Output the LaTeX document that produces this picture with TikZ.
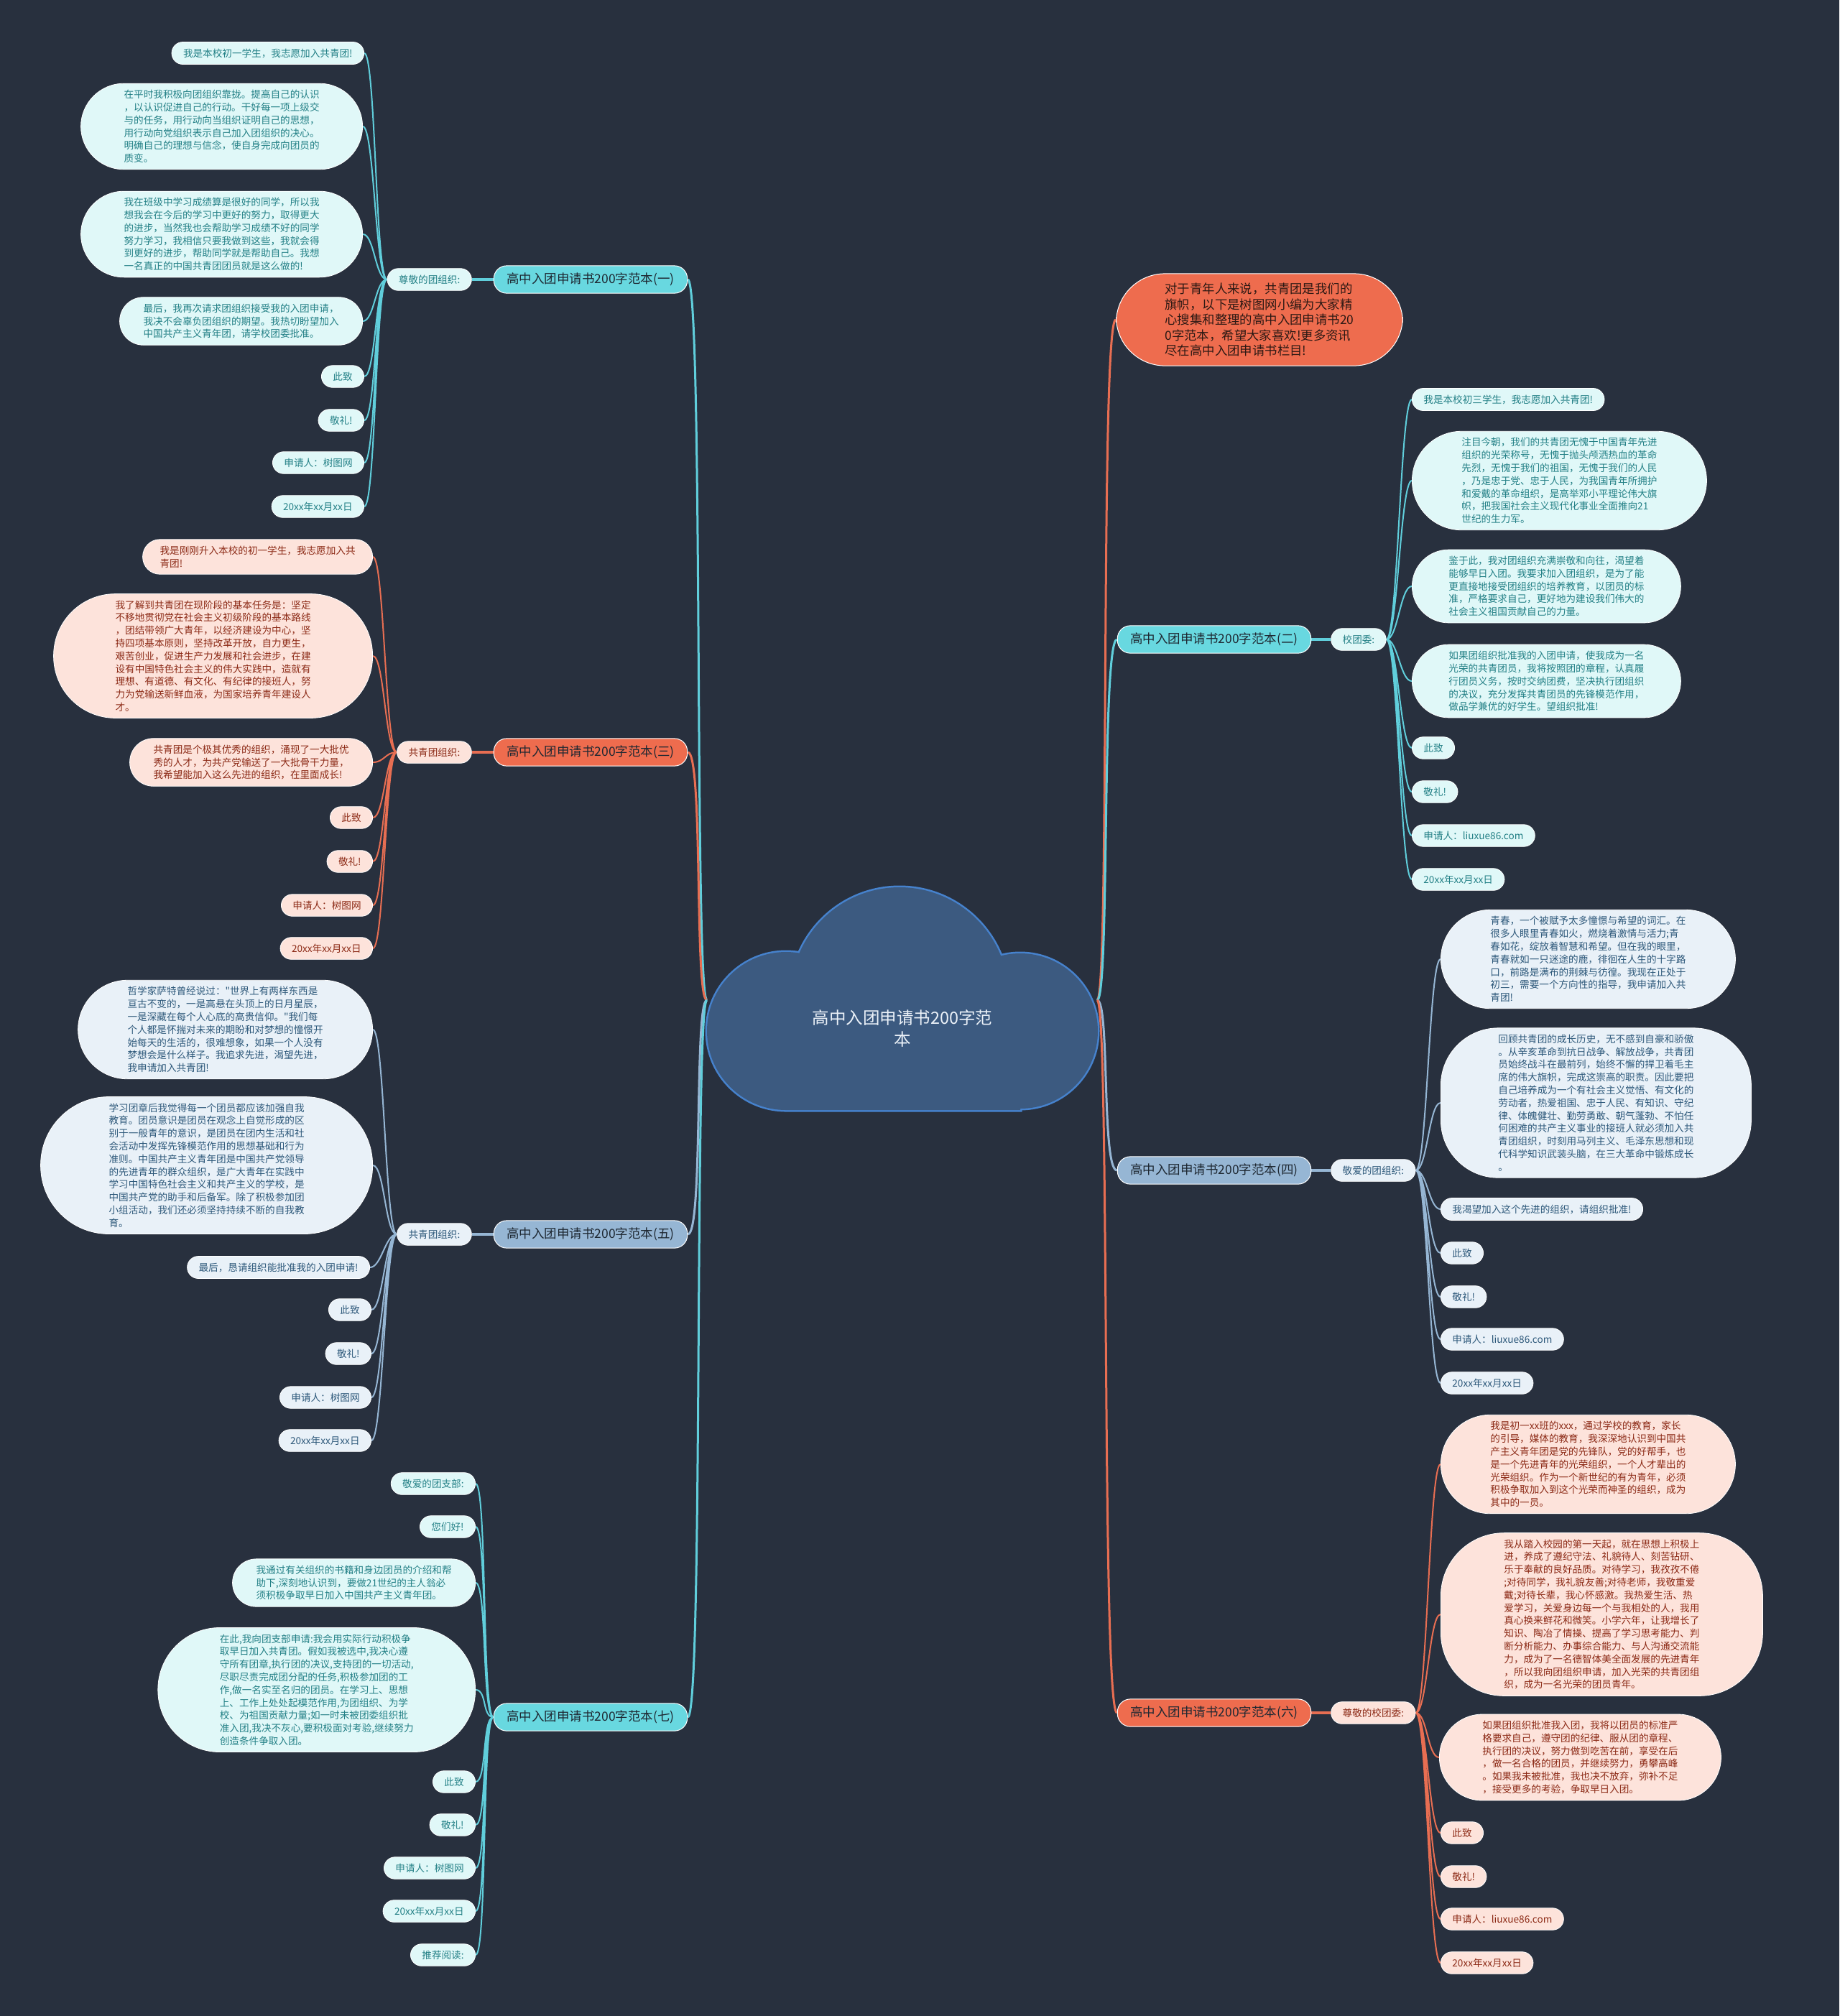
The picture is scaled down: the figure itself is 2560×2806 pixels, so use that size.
\documentclass[tikz,border=0pt]{standalone}
\usepackage{fontspec}
\newfontfamily\cjk{Noto Sans CJK SC}
\usepackage{xcolor}
\usepackage{tikz}
\usetikzlibrary{positioning,backgrounds}

\definecolor{bgnavy}{RGB}{40,48,62}
\definecolor{cloudfl}{RGB}{60,90,128}
\definecolor{cloudln}{RGB}{70,130,205}
\definecolor{roottx}{RGB}{235,241,248}
\definecolor{cyfill}{RGB}{104,216,224}
\definecolor{cylight}{RGB}{224,248,248}
\definecolor{cytext}{RGB}{35,128,134}
\definecolor{cyanln}{RGB}{96,206,219}
\definecolor{orfill}{RGB}{238,108,78}
\definecolor{orlight}{RGB}{253,227,219}
\definecolor{ortext}{RGB}{140,42,22}
\definecolor{orangeln}{RGB}{232,110,82}
\definecolor{blfill}{RGB}{150,182,212}
\definecolor{bllight}{RGB}{233,241,248}
\definecolor{bltext}{RGB}{45,88,122}
\definecolor{blueln}{RGB}{150,182,212}
\definecolor{brtext}{RGB}{30,40,50}

\begin{document}
\begin{tikzpicture}[
  x=1pt, y=-1pt,
  node distance=30pt,
  pill/.style={rectangle, rounded corners=15.5pt, inner xsep=16pt, inner ysep=9pt, draw=white,
    line width=0.8pt, align=left, font=\cjk\fontsize{13.6}{17.8}\selectfont},
  bub/.style={inner xsep=#1, rounded corners=#1},
  cyleaf/.style={pill, fill=cylight, text=cytext},
  orleaf/.style={pill, fill=orlight, text=ortext},
  blleaf/.style={pill, fill=bllight, text=bltext},
  branch/.style={rectangle, rounded corners=18pt, inner xsep=18pt, inner ysep=10pt, draw=white,
    line width=1pt, text=brtext, font=\cjk\fontsize{17.5}{21}\selectfont},
  cybranch/.style={branch, fill=cyfill},
  orbranch/.style={branch, fill=orfill},
  blbranch/.style={branch, fill=blfill},
  intro/.style={branch, fill=orfill, align=left, inner ysep=13pt, bub=68pt,
    text={rgb,255:red,45;green,25;blue,20}, font=\cjk\fontsize{17.4}{21.5}\selectfont},
  roottext/.style={align=center, text=roottx, font=\cjk\fontsize{23.5}{30}\selectfont},
  trunk/.style={line width=3pt},
  twig/.style={line width=2pt},
  lkl/.style={to path={.. controls +(-16,0) and +(16,0) .. (\tikztotarget)}},
  lkr/.style={to path={.. controls +(16,0) and +(-16,0) .. (\tikztotarget)}}
]
\useasboundingbox (0,0) rectangle (2560,2806);

% cloud
\path[draw=cloudln, line width=5pt, fill=cloudfl]
  (1094,1435) circle[radius=110pt] (1252,1387) circle[radius=152pt]
  (1420,1435) circle[radius=108pt] (1094,1420) rectangle (1420,1545);
\path[fill=cloudfl]
  (1094,1435) circle[radius=110pt] (1252,1387) circle[radius=152pt]
  (1420,1435) circle[radius=108pt] (1094,1420) rectangle (1420,1545);
\node[roottext] (root) at (1256,1431) {高中入团申请书200字范\\本};
\coordinate (rootL) at (984,1392);
\coordinate (rootR) at (1527,1392);

% left: fanben (yi)
\node[cybranch] (fb1) at (822,389) {高中入团申请书200字范本(一)};
\node[cyleaf, left=of fb1] (lab1) {尊敬的团组织:};
\node[cyleaf, anchor=east] (p1a) at (507,74) {我是本校初一学生，我志愿加入共青团!};
\node[cyleaf, bub=60pt, anchor=east] (p1b) at (505,176) {在平时我积极向团组织靠拢。提高自己的认识\\，以认识促进自己的行动。干好每一项上级交\\与的任务，用行动向当组织证明自己的思想，\\用行动向党组织表示自己加入团组织的决心。\\明确自己的理想与信念，使自身完成向团员的\\质变。};
\node[cyleaf, bub=60pt, anchor=east] (p1c) at (505,326) {我在班级中学习成绩算是很好的同学，所以我\\想我会在今后的学习中更好的努力，取得更大\\的进步，当然我也会帮助学习成绩不好的同学\\努力学习，我相信只要我做到这些，我就会得\\到更好的进步，帮助同学就是帮助自己。我想\\一名真正的中国共青团团员就是这么做的!};
\node[cyleaf, bub=33pt, anchor=east] (p1d) at (505,447) {最后，我再次请求团组织接受我的入团申请，\\我决不会辜负团组织的期望。我热切盼望加入\\中国共产主义青年团，请学校团委批准。};
\node[cyleaf, anchor=east] (p1e) at (507,524) {此致};
\node[cyleaf, anchor=east] (p1f) at (507,585) {敬礼!};
\node[cyleaf, anchor=east] (p1g) at (507,644) {申请人：树图网};
\node[cyleaf, anchor=east] (p1h) at (507,705) {20xx年xx月xx日};

% left: fanben (san)
\node[orbranch] (fb3) at (822,1047) {高中入团申请书200字范本(三)};
\node[orleaf, left=of fb3] (lab3) {共青团组织:};
\node[orleaf, bub=24pt, anchor=east] (p3a) at (519,775) {我是刚刚升入本校的初一学生，我志愿加入共\\青团!};
\node[orleaf, bub=86pt, anchor=east] (p3b) at (519,913) {我了解到共青团在现阶段的基本任务是：坚定\\不移地贯彻党在社会主义初级阶段的基本路线\\，团结带领广大青年，以经济建设为中心，坚\\持四项基本原则，坚持改革开放，自力更生，\\艰苦创业，促进生产力发展和社会进步，在建\\设有中国特色社会主义的伟大实践中，造就有\\理想、有道德、有文化、有纪律的接班人，努\\力为党输送新鲜血液，为国家培养青年建设人\\才。};
\node[orleaf, bub=33pt, anchor=east] (p3c) at (519,1061) {共青团是个极其优秀的组织，涌现了一大批优\\秀的人才，为共产党输送了一大批骨干力量，\\我希望能加入这么先进的组织，在里面成长!};
\node[orleaf, anchor=east] (p3d) at (519,1138) {此致};
\node[orleaf, anchor=east] (p3e) at (519,1199) {敬礼!};
\node[orleaf, anchor=east] (p3f) at (519,1260) {申请人：树图网};
\node[orleaf, anchor=east] (p3g) at (519,1320) {20xx年xx月xx日};

% left: fanben (wu)
\node[blbranch] (fb5) at (822,1718) {高中入团申请书200字范本(五)};
\node[blleaf, left=of fb5] (lab5) {共青团组织:};
\node[blleaf, bub=69pt, anchor=east] (p5a) at (519,1433) {哲学家萨特曾经说过："世界上有两样东西是\\亘古不变的，一是高悬在头顶上的日月星辰，\\一是深藏在每个人心底的高贵信仰。"我们每\\个人都是怀揣对未来的期盼和对梦想的憧憬开\\始每天的生活的，很难想象，如果一个人没有\\梦想会是什么样子。我追求先进，渴望先进，\\我申请加入共青团!};
\node[blleaf, bub=95pt, anchor=east] (p5b) at (519,1622) {学习团章后我觉得每一个团员都应该加强自我\\教育。团员意识是团员在观念上自觉形成的区\\别于一般青年的意识，是团员在团内生活和社\\会活动中发挥先锋模范作用的思想基础和行为\\准则。中国共产主义青年团是中国共产党领导\\的先进青年的群众组织，是广大青年在实践中\\学习中国特色社会主义和共产主义的学校，是\\中国共产党的助手和后备军。除了积极参加团\\小组活动，我们还必须坚持持续不断的自我教\\育。};
\node[blleaf, anchor=east] (p5c) at (515,1764) {最后，恳请组织能批准我的入团申请!};
\node[blleaf, anchor=east] (p5d) at (517,1823) {此致};
\node[blleaf, anchor=east] (p5e) at (517,1884) {敬礼!};
\node[blleaf, anchor=east] (p5f) at (517,1945) {申请人：树图网};
\node[blleaf, anchor=east] (p5g) at (517,2005) {20xx年xx月xx日};

% left: fanben (qi)
\node[cybranch] (fb7) at (822,2390) {高中入团申请书200字范本(七)};
\node[cyleaf, anchor=east] (p7a) at (662,2065) {敬爱的团支部:};
\node[cyleaf, anchor=east] (p7b) at (662,2125) {您们好!};
\node[cyleaf, bub=33pt, anchor=east] (p7c) at (662,2203) {我通过有关组织的书籍和身边团员的介绍和帮\\助下,深刻地认识到，要做21世纪的主人翁必\\须积极争取早日加入中国共产主义青年团。};
\node[cyleaf, bub=86pt, anchor=east] (p7d) at (662,2352) {在此,我向团支部申请:我会用实际行动积极争\\取早日加入共青团。假如我被选中,我决心遵\\守所有团章,执行团的决议,支持团的一切活动,\\尽职尽责完成团分配的任务,积极参加团的工\\作,做一名实至名归的团员。在学习上、思想\\上、工作上处处起模范作用,为团组织、为学\\校、为祖国贡献力量;如一时未被团委组织批\\准入团,我决不灰心,要积极面对考验,继续努力\\创造条件争取入团。};
\node[cyleaf, anchor=east] (p7e) at (662,2480) {此致};
\node[cyleaf, anchor=east] (p7f) at (662,2540) {敬礼!};
\node[cyleaf, anchor=east] (p7g) at (662,2600) {申请人：树图网};
\node[cyleaf, anchor=east] (p7h) at (662,2660) {20xx年xx月xx日};
\node[cyleaf, anchor=east] (p7i) at (662,2721) {推荐阅读:};

% right: intro
\node[intro, anchor=west] (intro) at (1553,445) {对于青年人来说，共青团是我们的\\旗帜，以下是树图网小编为大家精\\心搜集和整理的高中入团申请书20\\0字范本，希望大家喜欢!更多资讯\\尽在高中入团申请书栏目!};

% right: fanben (er)
\node[cybranch] (fb2) at (1690,890) {高中入团申请书200字范本(二)};
\node[cyleaf, right=27pt of fb2] (lab2) {校团委:};
\node[cyleaf, anchor=west] (p2a) at (1965,556) {我是本校初三学生，我志愿加入共青团!};
\node[cyleaf, bub=69pt, anchor=west] (p2b) at (1965,669) {注目今朝，我们的共青团无愧于中国青年先进\\组织的光荣称号，无愧于抛头颅洒热血的革命\\先烈，无愧于我们的祖国，无愧于我们的人民\\，乃是忠于党、忠于人民，为我国青年所拥护\\和爱戴的革命组织，是高举邓小平理论伟大旗\\帜，把我国社会主义现代化事业全面推向21\\世纪的生力军。};
\node[cyleaf, bub=51pt, anchor=west] (p2c) at (1965,816) {鉴于此，我对团组织充满崇敬和向往，渴望着\\能够早日入团。我要求加入团组织，是为了能\\更直接地接受团组织的培养教育，以团员的标\\准，严格要求自己，更好地为建设我们伟大的\\社会主义祖国贡献自己的力量。};
\node[cyleaf, bub=51pt, anchor=west] (p2d) at (1965,948) {如果团组织批准我的入团申请，使我成为一名\\光荣的共青团员，我将按照团的章程，认真履\\行团员义务，按时交纳团费，坚决执行团组织\\的决议，充分发挥共青团员的先锋模范作用，\\做品学兼优的好学生。望组织批准!};
\node[cyleaf, anchor=west] (p2e) at (1965,1041) {此致};
\node[cyleaf, anchor=west] (p2f) at (1965,1102) {敬礼!};
\node[cyleaf, anchor=west] (p2g) at (1965,1163) {申请人：liuxue86.com};
\node[cyleaf, anchor=west] (p2h) at (1965,1224) {20xx年xx月xx日};

% right: fanben (si)
\node[blbranch] (fb4) at (1690,1629) {高中入团申请书200字范本(四)};
\node[blleaf, right=27pt of fb4] (lab4) {敬爱的团组织:};
\node[blleaf, bub=69pt, anchor=west] (p4a) at (2005,1335) {青春，一个被赋予太多憧憬与希望的词汇。在\\很多人眼里青春如火，燃烧着激情与活力;青\\春如花，绽放着智慧和希望。但在我的眼里，\\青春就如一只迷途的鹿，徘徊在人生的十字路\\口，前路是满布的荆棘与彷徨。我现在正处于\\初三，需要一个方向性的指导，我申请加入共\\青团!};
\node[blleaf, bub=80pt, anchor=west] (p4b) at (2005,1535) {回顾共青团的成长历史，无不感到自豪和骄傲\\。从辛亥革命到抗日战争、解放战争，共青团\\员始终战斗在最前列，始终不懈的捍卫着毛主\\席的伟大旗帜，完成这崇高的职责。因此要把\\自己培养成为一个有社会主义觉悟、有文化的\\劳动者，热爱祖国、忠于人民、有知识、守纪\\律、体魄健壮、勤劳勇敢、朝气蓬勃、不怕任\\何困难的共产主义事业的接班人就必须加入共\\青团组织，时刻用马列主义、毛泽东思想和现\\代科学知识武装头脑，在三大革命中锻炼成长\\。};
\node[blleaf, anchor=west] (p4c) at (2005,1683) {我渴望加入这个先进的组织，请组织批准!};
\node[blleaf, anchor=west] (p4d) at (2005,1744) {此致};
\node[blleaf, anchor=west] (p4e) at (2005,1805) {敬礼!};
\node[blleaf, anchor=west] (p4f) at (2005,1864) {申请人：liuxue86.com};
\node[blleaf, anchor=west] (p4g) at (2005,1925) {20xx年xx月xx日};

% right: fanben (liu)
\node[orbranch] (fb6) at (1690,2384) {高中入团申请书200字范本(六)};
\node[orleaf, right=27pt of fb6] (lab6) {尊敬的校团委:};
\node[orleaf, bub=69pt, anchor=west] (p6a) at (2005,2038) {我是初一xx班的xxx，通过学校的教育，家长\\的引导，媒体的教育，我深深地认识到中国共\\产主义青年团是党的先锋队，党的好帮手，也\\是一个先进青年的光荣组织，一个人才辈出的\\光荣组织。作为一个新世纪的有为青年，必须\\积极争取加入到这个光荣而神圣的组织，成为\\其中的一员。};
\node[orleaf, bub=88pt, anchor=west] (p6b) at (2005,2247) {我从踏入校园的第一天起，就在思想上积极上\\进，养成了遵纪守法、礼貌待人、刻苦钻研、\\乐于奉献的良好品质。对待学习，我孜孜不倦\\;对待同学，我礼貌友善;对待老师，我敬重爱\\戴;对待长辈，我心怀感激。我热爱生活、热\\爱学习，关爱身边每一个与我相处的人，我用\\真心换来鲜花和微笑。小学六年，让我增长了\\知识、陶冶了情操、提高了学习思考能力、判\\断分析能力、办事综合能力、与人沟通交流能\\力，成为了一名德智体美全面发展的先进青年\\，所以我向团组织申请，加入光荣的共青团组\\织，成为一名光荣的团员青年。};
\node[orleaf, bub=60pt, anchor=west] (p6c) at (2003,2446) {如果团组织批准我入团，我将以团员的标准严\\格要求自己，遵守团的纪律、服从团的章程、\\执行团的决议，努力做到吃苦在前，享受在后\\，做一名合格的团员，并继续努力，勇攀高峰\\。如果我未被批准，我也决不放弃，弥补不足\\，接受更多的考验，争取早日入团。};
\node[orleaf, anchor=west] (p6d) at (2005,2551) {此致};
\node[orleaf, anchor=west] (p6e) at (2005,2612) {敬礼!};
\node[orleaf, anchor=west] (p6f) at (2005,2671) {申请人：liuxue86.com};
\node[orleaf, anchor=west] (p6g) at (2005,2732) {20xx年xx月xx日};

\begin{scope}[on background layer]
\fill[bgnavy] (0,0) rectangle (2560,2806);
% trunks from the cloud
\draw[cyanln, trunk] (rootL) .. controls +(-18,0) and +(22,0) .. (fb1.east);
\draw[orangeln, trunk] (rootL) .. controls +(-18,0) and +(22,0) .. (fb3.east);
\draw[blueln, trunk] (rootL) .. controls +(-18,0) and +(22,0) .. (fb5.east);
\draw[cyanln, trunk] (rootL) .. controls +(-18,0) and +(22,0) .. (fb7.east);
\draw[orangeln, trunk] (rootR) .. controls +(18,0) and +(-22,0) .. (intro.west);
\draw[cyanln, trunk] (rootR) .. controls +(18,0) and +(-22,0) .. (fb2.west);
\draw[blueln, trunk] (rootR) .. controls +(18,0) and +(-22,0) .. (fb4.west);
\draw[orangeln, trunk] (rootR) .. controls +(18,0) and +(-22,0) .. (fb6.west);
% branch to label
\draw[cyanln, line width=4pt] (fb1.west) -- (lab1.east);
\draw[orangeln, line width=4pt] (fb3.west) -- (lab3.east);
\draw[blueln, line width=4pt] (fb5.west) -- (lab5.east);
\draw[cyanln, line width=4pt] (fb2.east) -- (lab2.west);
\draw[blueln, line width=4pt] (fb4.east) -- (lab4.west);
\draw[orangeln, line width=4pt] (fb6.east) -- (lab6.west);
% label to leaves
\draw[cyanln, twig, lkl] (lab1.west) to (p1a.east) (lab1.west) to (p1b.east)
  (lab1.west) to (p1c.east) (lab1.west) to (p1d.east) (lab1.west) to (p1e.east)
  (lab1.west) to (p1f.east) (lab1.west) to (p1g.east) (lab1.west) to (p1h.east);
\draw[orangeln, twig, lkl] (lab3.west) to (p3a.east) (lab3.west) to (p3b.east)
  (lab3.west) to (p3c.east) (lab3.west) to (p3d.east) (lab3.west) to (p3e.east)
  (lab3.west) to (p3f.east) (lab3.west) to (p3g.east);
\draw[blueln, twig, lkl] (lab5.west) to (p5a.east) (lab5.west) to (p5b.east)
  (lab5.west) to (p5c.east) (lab5.west) to (p5d.east) (lab5.west) to (p5e.east)
  (lab5.west) to (p5f.east) (lab5.west) to (p5g.east);
\draw[cyanln, twig, lkl] (fb7.west) to (p7a.east) (fb7.west) to (p7b.east)
  (fb7.west) to (p7c.east) (fb7.west) to (p7d.east) (fb7.west) to (p7e.east)
  (fb7.west) to (p7f.east) (fb7.west) to (p7g.east) (fb7.west) to (p7h.east)
  (fb7.west) to (p7i.east);
\draw[cyanln, twig, lkr] (lab2.east) to (p2a.west) (lab2.east) to (p2b.west)
  (lab2.east) to (p2c.west) (lab2.east) to (p2d.west) (lab2.east) to (p2e.west)
  (lab2.east) to (p2f.west) (lab2.east) to (p2g.west) (lab2.east) to (p2h.west);
\draw[blueln, twig, lkr] (lab4.east) to (p4a.west) (lab4.east) to (p4b.west)
  (lab4.east) to (p4c.west) (lab4.east) to (p4d.west) (lab4.east) to (p4e.west)
  (lab4.east) to (p4f.west) (lab4.east) to (p4g.west);
\draw[orangeln, twig, lkr] (lab6.east) to (p6a.west) (lab6.east) to (p6b.west)
  (lab6.east) to (p6c.west) (lab6.east) to (p6d.west) (lab6.east) to (p6e.west)
  (lab6.east) to (p6f.west) (lab6.east) to (p6g.west);
\end{scope}
\end{tikzpicture}
\end{document}
